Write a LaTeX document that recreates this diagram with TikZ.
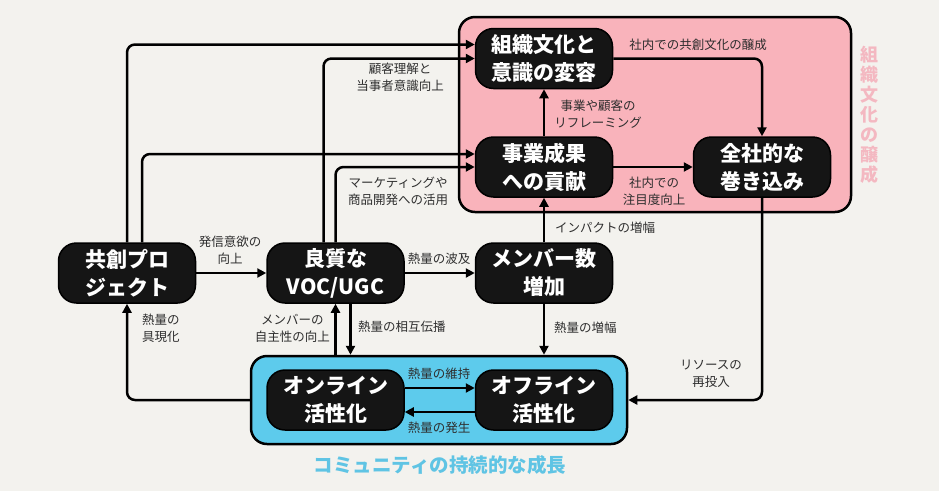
\documentclass[tikz,border=0pt]{standalone}
\usepackage{fontspec}
\setmainfont{Noto Sans CJK JP}
\usepackage{xcolor}
\usepackage{tikz}
\usetikzlibrary{arrows.meta, positioning, calc}

\definecolor{bgpaper}{HTML}{F3F2EE}
\definecolor{culturepink}{HTML}{F9B3BB}
\definecolor{titlepink}{HTML}{F3B8C1}
\definecolor{commblue}{HTML}{5DCBEC}
\definecolor{titleblue}{HTML}{5FC4E4}
\definecolor{nodeblack}{HTML}{151515}
\definecolor{notegray}{HTML}{2E2E2E}

\begin{document}
\begin{tikzpicture}[x=1pt, y=-1pt,
  stage/.style={draw=black, line width=1.5pt, fill=nodeblack, text=white, rounded corners=18pt,
    minimum width=137pt, minimum height=60pt, align=center, font=\fontsize{21}{28}\selectfont\bfseries},
  zone/.style={draw=black, line width=2.5pt, rounded corners=16pt},
  flow/.style={-{Triangle[length=9pt,width=9pt]}, line width=2.5pt, rounded corners=8pt},
  note/.style={align=center, text=notegray, inner sep=0pt, font=\fontsize{12.5}{17}\selectfont}]
\fill[bgpaper] (0,0) rectangle (939,491);

% zones
\node[zone, fill=culturepink, minimum width=392pt, minimum height=195pt] (culturezone) at (655,114.5) {};
\node[zone, fill=commblue, minimum width=376pt, minimum height=88pt] (commbox) at (439,400) {};
\node[align=center, text=titlepink, font=\fontsize{18}{20}\selectfont\bfseries] (culturetitle) at (869,115)
   {組\\織\\文\\化\\の\\醸\\成};
\node[text=titleblue, font=\fontsize{19.5}{22}\selectfont\bfseries] (commtitle) at (440,465)
   {コミュニティの持続的な成長};

% stages
\node[stage] (culture) at (544,58.5) {組織文化と\\意識の変容};
\node[stage] (contrib) at (544,167) {事業成果\\への貢献};
\node[stage] (involve) at (762,167) {全社的な\\巻き込み};
\node[stage] (proj) at (127,273) {共創プロ\\ジェクト};
\node[stage] (voc) at (335.5,273) {良質な\\VOC/UGC};
\node[stage] (members) at (544,273) {メンバー数\\増加};
\node[stage] (online) at (335.5,400) {オンライン\\活性化};
\node[stage] (offline) at (544,400) {オフライン\\活性化};

% long links to the top
\draw[flow] (proj.north) |- ($(culture.west)+(0,-14)$);
\draw[flow] ($(proj.north)+(15,0)$) |- ($(contrib.west)+(0,-13)$);
\draw[flow] ($(voc.north)+(-12,0)$) |- (culture.west);
\draw[flow] (voc.north) |- (contrib.west);
\node[note] (lbl-insight) at (400,77) {顧客理解と\\当事者意識向上};
\node[note] (lbl-market) at (398,191) {マーケティングや\\商品開発への活用};

% middle row
\draw[flow] (proj) -- (voc);
\node[note] (lbl-motiv) at (230,250) {発信意欲の\\向上};
\draw[flow] (voc) -- (members);
\node[note] (lbl-spread) at (439,259) {熱量の波及};
\draw[flow] (members) -- (contrib);
\node[note, anchor=west] (lbl-impact) at (555,228) {インパクトの増幅};

% culture zone
\draw[flow] (contrib) -- (culture);
\node[note] (lbl-reframe) at (598,114) {事業や顧客の\\リフレーミング};
\draw[flow] (culture.east) -| (involve.north);
\node[note] (lbl-cocreate) at (698,45) {社内での共創文化の醸成};
\draw[flow] (contrib) -- (involve);
\node[note] (lbl-attention) at (654,191) {社内での\\注目度向上};

% back to the community
\draw[flow] (involve.south) |- (commbox.east);
\node[note] (lbl-resource) at (711,374) {リソースの\\再投入};
\draw[flow] (members.south) -- (members.south |- commbox.north);
\node[note, anchor=west] (lbl-amplify) at (554,328) {熱量の増幅};
\coordinate (vocdown) at ($(voc.south)+(15,0)$);
\draw[flow] (vocdown) -- (vocdown |- commbox.north);
\node[note, anchor=west] (lbl-mutual) at (358,327) {熱量の相互伝播};
\draw[flow] (voc.south |- commbox.north) -- (voc.south);
\node[note, anchor=east] (lbl-autonomy) at (330,328) {メンバーの\\自主性の向上};
\draw[flow] (commbox.west) -| (proj.south);
\node[note, anchor=west] (lbl-embody) at (142,328) {熱量の\\具現化};

% inside the community
\draw[flow] ($(online.east)+(0,-12)$) -- ($(offline.west)+(0,-12)$);
\node[note] (lbl-keep) at (439,374) {熱量の維持};
\draw[flow] ($(offline.west)+(0,12)$) -- ($(online.east)+(0,12)$);
\node[note] (lbl-spark) at (439,428) {熱量の発生};
\end{tikzpicture}
\end{document}
